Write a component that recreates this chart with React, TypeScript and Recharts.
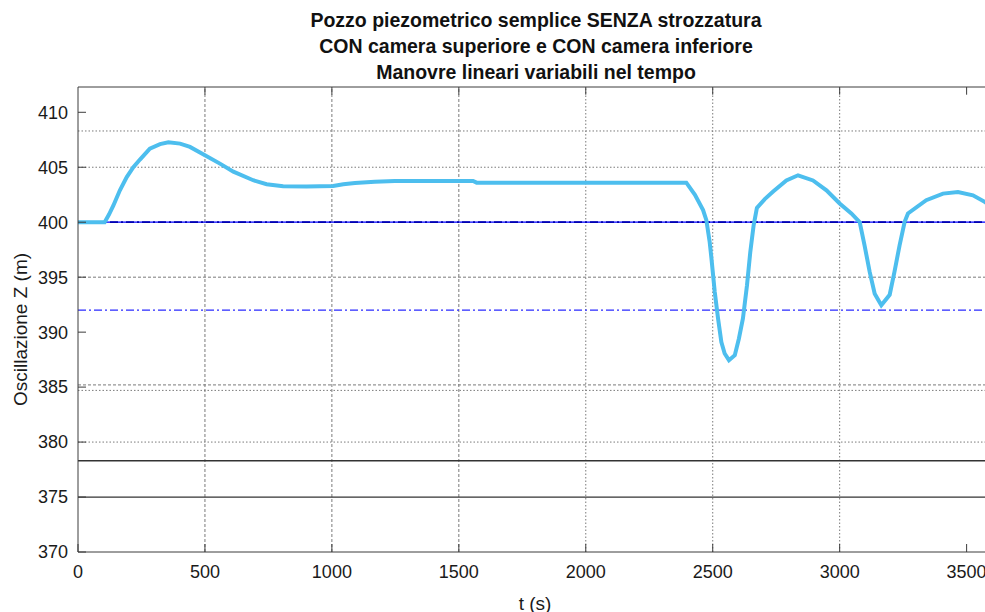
import React from 'react';
import { LineChart, Line, XAxis, YAxis, ReferenceLine } from 'recharts';

const titleLines = [
  'Pozzo piezometrico semplice SENZA strozzatura',
  'CON camera superiore e CON camera inferiore',
  'Manovre lineari variabili nel tempo',
];
const xLabel = 't (s)';
const yLabel = 'Oscillazione Z (m)';

const tValues = [
  0, 105, 122, 139, 165, 192, 218, 244, 283, 323, 356, 402, 441, 500, 559, 612, 690, 743, 808, 900,
  1005, 1045, 1091, 1169, 1248, 1400, 1556, 1570, 2000, 2396, 2430, 2462, 2475, 2488, 2495, 2508,
  2521, 2534, 2547, 2564, 2587, 2603, 2619, 2635, 2648, 2661, 2674, 2705, 2738, 2790, 2836, 2895,
  2948, 3000, 3046, 3079, 3098, 3118, 3138, 3164, 3197, 3216, 3236, 3256, 3269, 3341, 3407, 3466,
  3525, 3571, 3600,
];
const zValues = [
  400, 400, 400.7, 401.5, 402.9, 404.1, 405.0, 405.7, 406.7, 407.1, 407.27, 407.15, 406.85, 406.1,
  405.33, 404.6, 403.82, 403.45, 403.27, 403.25, 403.3, 403.45, 403.57, 403.67, 403.75, 403.75,
  403.75, 403.6, 403.6, 403.6, 402.5, 401.1, 400.18, 398.2, 396.7, 393.66, 391.25, 389.1, 388.06,
  387.45, 387.9, 389.4, 391.25, 394.27, 397.3, 399.7, 401.3, 402.1, 402.8, 403.8, 404.27, 403.8,
  402.9, 401.7, 400.8, 400.0, 397.9, 395.5, 393.5, 392.45, 393.4, 395.5, 397.9, 400.03, 400.8,
  402.0, 402.6, 402.75, 402.45, 401.85, 401.4,
];

const xTicks = [0, 500, 1000, 1500, 2000, 2500, 3000, 3500];
const yTicks = [370, 375, 380, 385, 390, 395, 400, 405, 410];
const xDomain = [0, 3600];
const yDomain = [370, 412.3];

const vGridDashed = [500, 1000, 1500];
const vGridDotted = [2000, 2500, 3000];
const hDotted = [408.3, 405, 384.7, 380];
const hDashed = [395, 385.2];
const hSolidDark = [378.3, 375];
const zRef = 400;
const zMin = 392;

const data = tValues.map((t, i) => ({ t, z: zValues[i] }));

const FONT = '"Liberation Sans", Arial, sans-serif';
const AXIS = '#3c3c3c';
const GRID = '#7a7a7a';

export default function App() {
  return (
    <div
      style={{
        position: 'fixed',
        left: 0,
        top: 0,
        width: 985,
        height: 612,
        overflow: 'hidden',
        background: '#fff',
        fontFamily: FONT,
      }}
    >
      {titleLines.map((s, i) => (
        <div
          key={i}
          style={{
            position: 'absolute',
            left: 236,
            width: 600,
            top: 7 + i * 26,
            lineHeight: '26px',
            textAlign: 'center',
            fontWeight: 'bold',
            fontSize: 19.5,
            color: '#111',
          }}
        >
          {s}
        </div>
      ))}
      <div style={{ position: 'absolute', left: 0, top: 0 }}>
        <LineChart
          width={1000}
          height={612}
          data={data}
          margin={{ top: 87, right: 8, bottom: 0, left: 0 }}
        >
          <XAxis
            dataKey="t"
            type="number"
            domain={xDomain}
            ticks={xTicks}
            allowDataOverflow
            height={60}
            tickSize={-8}
            tickMargin={21}
            stroke={AXIS}
            tick={{ fill: '#1a1a1a', fontSize: 18, fontFamily: FONT }}
            label={{ value: xLabel, position: 'insideBottom', offset: 2, fill: '#1a1a1a', fontSize: 19, fontFamily: FONT }}
          />
          <YAxis
            type="number"
            domain={yDomain}
            ticks={yTicks}
            allowDataOverflow
            width={78}
            tickSize={-8}
            tickMargin={18}
            stroke={AXIS}
            tick={{ fill: '#1a1a1a', fontSize: 18, fontFamily: FONT }}
            label={{ value: yLabel, angle: -90, position: 'center', dx: -19, dy: 10, fill: '#1a1a1a', fontSize: 19, fontFamily: FONT }}
          />
          {vGridDashed.map((x) => (
            <ReferenceLine key={'vd' + x} x={x} stroke={GRID} strokeDasharray="3 2" strokeWidth={1} />
          ))}
          {vGridDotted.map((x) => (
            <ReferenceLine key={'vo' + x} x={x} stroke={GRID} strokeDasharray="1.5 2" strokeWidth={1} />
          ))}
          {hDotted.map((y) => (
            <ReferenceLine key={'ho' + y} y={y} stroke={GRID} strokeDasharray="1.5 2" strokeWidth={1} />
          ))}
          {hDashed.map((y) => (
            <ReferenceLine key={'hd' + y} y={y} stroke={GRID} strokeDasharray="3 2" strokeWidth={1} />
          ))}
          {hSolidDark.map((y) => (
            <ReferenceLine key={'hs' + y} y={y} stroke="#333" strokeWidth={1.3} />
          ))}
          <ReferenceLine y={zMin} stroke="#2a2aff" strokeDasharray="8 3 2 3" strokeWidth={1.2} />
          <ReferenceLine y={zRef} stroke="#0000ff" strokeWidth={1.2} />
          <ReferenceLine y={zRef} stroke="#0000b0" strokeDasharray="8 3 2 3" strokeWidth={1.8} />
          <ReferenceLine y={yDomain[1]} stroke={AXIS} strokeWidth={1} />
          {xTicks.slice(1).map((x) => (
            <ReferenceLine
              key={'tt' + x}
              segment={[
                { x, y: yDomain[1] },
                { x, y: yDomain[1] - 0.7 },
              ]}
              stroke={AXIS}
              strokeWidth={1}
            />
          ))}
          <Line
            type="linear"
            dataKey="z"
            stroke="#4DBEEE"
            strokeWidth={4}
            dot={false}
            isAnimationActive={false}
          />
        </LineChart>
      </div>
    </div>
  );
}
